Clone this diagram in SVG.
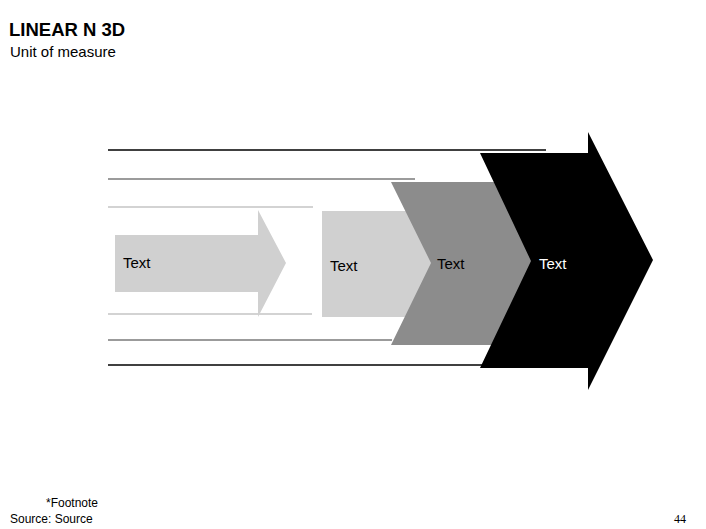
<svg xmlns="http://www.w3.org/2000/svg" width="706" height="529" viewBox="0 0 706 529">
<style>
.t{font-family:"Liberation Sans",Arial,sans-serif;fill:#000}
.lbl{font-family:"Liberation Sans",Arial,sans-serif;font-size:15px}
.l1{stroke:#000;stroke-width:1.3;fill:none}
.l2{stroke:#7a7a7a;stroke-width:1.3;fill:none}
.l3{stroke:#c4c4c4;stroke-width:1.3;fill:none}
</style>
<rect width="706" height="529" fill="#fff"/>
<text class="t" x="9" y="36" font-size="18.5" font-weight="bold">LINEAR N 3D</text>
<text class="t" x="10" y="57" font-size="15">Unit of measure</text>
<g id="connectors">
<line class="l1" x1="108" y1="150" x2="546" y2="150"/>
<line class="l2" x1="108" y1="179" x2="415" y2="179"/>
<line class="l3" x1="108" y1="207" x2="313" y2="207"/>
<line class="l3" x1="108" y1="314" x2="312" y2="314"/>
<line class="l2" x1="108" y1="340" x2="392" y2="340"/>
<line class="l1" x1="108" y1="365" x2="482" y2="365"/>
</g>
<g id="node1">
<polygon points="115,235 258,235 258,210 286,263 258,317 258,292 115,292" fill="#d0d0d0"/>
<text class="lbl" x="123" y="268" fill="#000">Text</text>
</g>
<g id="node2">
<rect x="322" y="211" width="118" height="106" fill="#d0d0d0"/>
<text class="lbl" x="330" y="271" fill="#000">Text</text>
</g>
<g id="node3">
<polygon points="391,182 500,182 550,262 500,345 391,345 431,263" fill="#8c8c8c"/>
<text class="lbl" x="437" y="269" fill="#000">Text</text>
</g>
<g id="node4">
<polygon points="480,153 588,153 588,132 653,260 588,390 588,368 480,368 531,261" fill="#000"/>
<text class="lbl" x="539" y="269" fill="#fff">Text</text>
</g>
<text class="t" x="46" y="507" font-size="12">*Footnote</text>
<text class="t" x="10" y="523" font-size="12">Source: Source</text>
<text x="674" y="523" font-size="12" font-family="Liberation Serif,serif">44</text>
</svg>
